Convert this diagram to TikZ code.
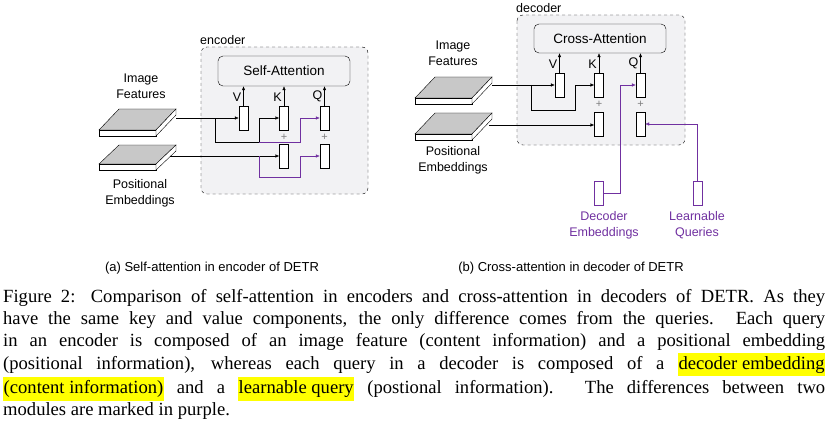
\documentclass[tikz,border=0pt]{standalone}
\usepackage{fontspec}
\setmainfont{Liberation Serif}
\newfontfamily\sfd{Liberation Sans}
\usetikzlibrary{arrows.meta}
\definecolor{pur}{RGB}{112,48,160}
\definecolor{boxbg}{RGB}{242,242,244}
\definecolor{slab}{RGB}{200,200,200}
\definecolor{hly}{RGB}{255,255,0}
\newcommand{\hlw}[1]{{\setlength{\fboxsep}{0.5pt}\colorbox{hly}{\strut #1}}}
\begin{document}
\begin{tikzpicture}[x=1pt,y=-1pt,
  bar/.style={draw,fill=white,minimum width=9pt,minimum height=24pt,inner sep=0pt},
  att/.style={draw,rounded corners=5pt,fill=boxbg,font=\sfd\fontsize{13.5}{15}\selectfont},
  mod/.style={draw,dashed,rounded corners=6pt,fill=boxbg},
  lbl/.style={font=\sfd\fontsize{12.5}{16}\selectfont,align=center,inner sep=0pt},
  arr/.style={-{Latex[length=4pt,width=3.5pt]}},
  pl/.style={font=\sfd\fontsize{11}{11}\selectfont,text=gray,inner sep=0pt}]
\useasboundingbox (0,0) rectangle (828,436);
% ---------- left ----------
\draw[mod] (201,47) rectangle (368,194);
\node[lbl,anchor=south west] (enc) at (200,45) {encoder};
\node[att,minimum width=132pt,minimum height=30pt] (sa) at (284,71) {Self-Attention};
\node[bar] (V1) at (243.5,118) {};
\node[bar] (K1) at (284,118) {};
\node[bar] (K2) at (284,156) {};
\node[bar] (Q1) at (324.5,118) {};
\node[bar] (Q2) at (324.5,156) {};
\node[pl] (p1) at (284,137) {+};
\node[pl] (p2) at (324.5,137) {+};
\foreach \b/\l in {V1/V,K1/K,Q1/Q}{
  \draw[arr] (\b.north) -- (\b.north |- sa.south);
  \node[lbl,anchor=east] at ([xshift=-2pt,yshift=9pt]\b.north) {\l};}
\fill[slab,draw=black] (99,130) -- (119,109) -- (176,109) -- (156,130) -- cycle;
\draw[fill=white] (99,130) -- (156,130) -- (156,136) -- (99,136) -- cycle;
\draw[fill=white] (156,130) -- (176,109) -- (176,115) -- (156,136) -- cycle;
\fill[slab,draw=black] (99,164) -- (119,145) -- (176,145) -- (156,164) -- cycle;
\draw[fill=white] (99,164) -- (156,164) -- (156,170) -- (99,170) -- cycle;
\draw[fill=white] (156,164) -- (176,145) -- (176,151) -- (156,170) -- cycle;
\node[lbl] (imf) at (141,86) {Image\\Features};
\node[lbl] (pos) at (140,193) {Positional\\Embeddings};
\coordinate (a1) at (176,118);
\coordinate (a2) at (170,156);
\draw[arr] (a1) -- (V1.west);
\draw[arr] (215,118) -- (215,142) -- (259,142) -- (259,118) -- (K1.west);
\draw[arr,pur] (259,142) -- (300,142) -- (300,118) -- (Q1.west);
\draw[arr] (a2) -- (K2.west);
\draw[arr,pur] (259,156) -- (259,177) -- (300,177) -- (300,156) -- (Q2.west);
\node[lbl,font=\sfd\fontsize{13}{13}\selectfont] (ca) at (212,268) {(a) Self-attention in encoder of DETR};
% ---------- right ----------
\draw[mod] (517,15) rectangle (685,145);
\node[lbl,anchor=south west] (dec) at (516,13) {decoder};
\node[att,minimum width=132pt,minimum height=29pt] (xa) at (600,38.5) {Cross-Attention};
\node[bar] (V3) at (559.5,85) {};
\node[bar] (K3) at (599,85) {};
\node[bar] (K4) at (599,124) {};
\node[bar] (Q3) at (640.5,85) {};
\node[bar] (Q4) at (640.5,124) {};
\node[pl] (p3) at (599,104.5) {+};
\node[pl] (p4) at (640.5,104.5) {+};
\foreach \b/\l in {V3/V,K3/K,Q3/Q}{
  \draw[arr] (\b.north) -- (\b.north |- xa.south);
  \node[lbl,anchor=east] at ([xshift=-2pt,yshift=9pt]\b.north) {\l};}
\fill[slab,draw=black] (415,98) -- (435,77) -- (492,77) -- (472,98) -- cycle;
\draw[fill=white] (415,98) -- (472,98) -- (472,104) -- (415,104) -- cycle;
\draw[fill=white] (472,98) -- (492,77) -- (492,83) -- (472,104) -- cycle;
\fill[slab,draw=black] (415,134) -- (435,113) -- (492,113) -- (472,134) -- cycle;
\draw[fill=white] (415,134) -- (472,134) -- (472,140) -- (415,140) -- cycle;
\draw[fill=white] (472,134) -- (492,113) -- (492,119) -- (472,140) -- cycle;
\node[lbl] (imf2) at (453,53) {Image\\Features};
\node[lbl] (pos2) at (453,160) {Positional\\Embeddings};
\coordinate (b1) at (492,85);
\coordinate (b2) at (489,125);
\draw[arr] (b1) -- (V3.west);
\draw[arr] (531,85) -- (531,110) -- (575,110) -- (575,85) -- (K3.west);
\draw[arr] (b2) -- (K4.west |- b2);
\node[bar,draw=pur] (DE) at (599,193.5) {};
\node[bar,draw=pur] (LQ) at (697.5,193.5) {};
\draw[arr,pur] (DE.east |- 0,193) -- (620,193) -- (620,85) -- (Q3.west);
\draw[arr,pur] (LQ.north) -- (697.5,124) -- (Q4.east);
\node[lbl,text=pur] (del) at (604,225.5) {Decoder\\Embeddings};
\node[lbl,text=pur] (lql) at (697,225.5) {Learnable\\Queries};
\node[lbl,font=\sfd\fontsize{13}{13}\selectfont] (cb) at (571,268) {(b) Cross-attention in decoder of DETR};
% ---------- caption ----------
\node[anchor=north west,inner sep=0pt,text width=822pt,align=justify,
  font=\fontsize{18.6}{22.3}\selectfont] (cap) at (3,289) {Figure 2: Comparison of self-attention in encoders and cross-attention in decoders of DETR. As they\linebreak
have the same key and value components, the only difference comes from the queries. Each query\linebreak
in an encoder is composed of an image feature (content information) and a positional embedding\linebreak
(positional information), whereas each query in a decoder is composed of a \hlw{decoder embedding}\linebreak
\hlw{(content information)} and a \hlw{learnable query} (postional information). The differences between two\linebreak
modules are marked in purple.};
\end{tikzpicture}
\end{document}
